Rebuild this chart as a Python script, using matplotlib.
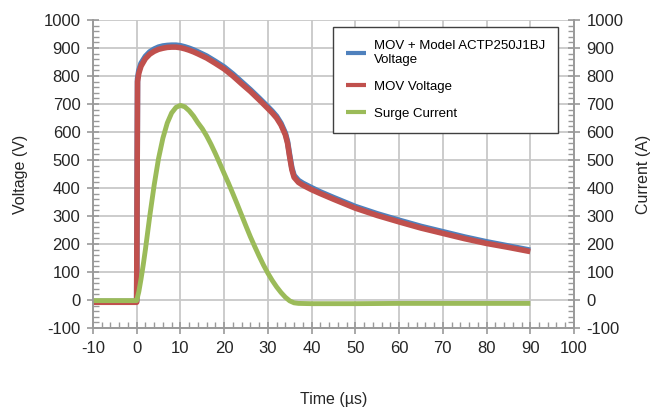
import matplotlib
matplotlib.use("Agg")
import matplotlib.pyplot as plt
from matplotlib.ticker import MultipleLocator

plt.rcParams["axes.unicode_minus"] = False
plt.rcParams["font.family"] = ["Liberation Sans", "DejaVu Sans"]

# voltage traces (V) vs time (us)
t_v = [-10, -5, -0.2, 0, 0.2, 0.5, 1, 2, 3, 4, 5, 6, 7, 8, 9, 10, 11, 12, 13, 14,
       16, 18, 20, 22, 24, 26, 28, 30, 31, 32, 33, 34, 34.5, 35, 35.5, 36, 37, 38,
       40, 42, 45, 50, 55, 60, 65, 70, 75, 80, 85, 90]
v_mov_actp = [-5, -5, -5, -5, 790, 820, 845, 870, 886, 896, 903, 907, 909, 910, 910, 908,
              904, 899, 893, 886, 871, 852, 832, 807, 779, 751, 721, 690, 674, 656, 631,
              596, 566, 516, 471, 445, 427, 417, 401, 386, 366, 334, 308, 285, 263, 244,
              225, 208, 193, 178]
v_mov = [-8, -8, -8, -8, 780, 810, 835, 862, 878, 888, 895, 899, 902, 903, 903, 901,
         897, 892, 886, 879, 864, 845, 825, 800, 772, 745, 715, 684, 668, 650, 625,
         590, 560, 510, 465, 438, 420, 410, 394, 380, 360, 328, 302, 279, 257, 238,
         219, 202, 188, 173]

# surge current (A)
t_c = [-10, -5, 0, 0.5, 1, 1.5, 2, 3, 4, 5, 6, 7, 8, 9, 10, 11, 12, 13, 14, 15, 16,
       17, 18, 19, 20, 21, 22, 23, 24, 25, 26, 27, 28, 29, 30, 31, 32, 33, 34, 35,
       36, 37, 40, 50, 60, 70, 80, 90]
i_surge = [-2, -2, -2, 30, 75, 125, 180, 300, 410, 505, 578, 632, 668, 688, 695, 690,
           676, 657, 633, 612, 586, 556, 523, 488, 452, 417, 380, 342, 303, 264, 226,
           191, 157, 125, 96, 70, 47, 27, 10, -3, -10, -12, -13, -13, -12, -12, -12, -12]

c_blue = "#4F81BD"
c_red = "#C0504D"
c_green = "#9BBB59"
grid_c = "#C8C8C8"
axis_c = "#9A9A9A"
txt_c = "#262626"

fig = plt.figure(figsize=(6.59, 4.07), dpi=100)
ax = fig.add_axes([0.141, 0.194, 0.730, 0.757])
ax2 = ax.twinx()

l1, = ax.plot(t_v, v_mov_actp, color=c_blue, lw=4, solid_capstyle="butt",
              label="MOV + Model ACTP250J1BJ\nVoltage")
l2, = ax.plot(t_v, v_mov, color=c_red, lw=4, solid_capstyle="butt", label="MOV Voltage")
l3, = ax2.plot(t_c, i_surge, color=c_green, lw=3.5, solid_capstyle="butt",
               label="Surge Current")

for a in (ax, ax2):
    a.set_xlim(-10, 100)
    a.set_ylim(-100, 1000)
    a.yaxis.set_major_locator(MultipleLocator(100))
    a.yaxis.set_minor_locator(MultipleLocator(20))
    for s in a.spines.values():
        s.set_color(axis_c)
        s.set_linewidth(1.2)
    a.spines["top"].set_visible(False)

ax.xaxis.set_major_locator(MultipleLocator(10))
ax.xaxis.set_minor_locator(MultipleLocator(2))
ax.grid(True, which="major", color=grid_c, lw=1.3)
ax.set_axisbelow(True)

ax.tick_params(axis="both", which="major", direction="inout", length=8, width=1.2,
               color=axis_c, labelsize=12, labelcolor=txt_c, pad=5)
ax.tick_params(axis="both", which="minor", direction="in", length=4, width=1,
               color=axis_c)
ax2.tick_params(axis="y", which="major", direction="inout", length=8, width=1.2,
                color=axis_c, labelsize=12, labelcolor=txt_c, pad=5)
ax2.tick_params(axis="y", which="minor", direction="in", length=4, width=1,
                color=axis_c)

ax.set_xlabel("Time (µs)", fontsize=11.5, color=txt_c, labelpad=26)
ax.set_ylabel("Voltage (V)", fontsize=11.5, color=txt_c, labelpad=11)
ax2.set_ylabel("Current (A)", fontsize=11.5, color=txt_c, labelpad=9)

leg = ax2.legend(handles=[l1, l2, l3], loc="upper left",
                 bbox_to_anchor=(0.499, 0.977), bbox_transform=ax.transAxes,
                 prop={"size": 9.5}, frameon=True, fancybox=False, framealpha=1,
                 edgecolor="#404040", handlelength=1.5, handletextpad=0.6,
                 labelspacing=1.1, borderpad=1.0, borderaxespad=0)
leg.get_frame().set_linewidth(1.0)
for h in leg.get_lines():
    h.set_linewidth(3)

fig.savefig("out.png", dpi=100)
